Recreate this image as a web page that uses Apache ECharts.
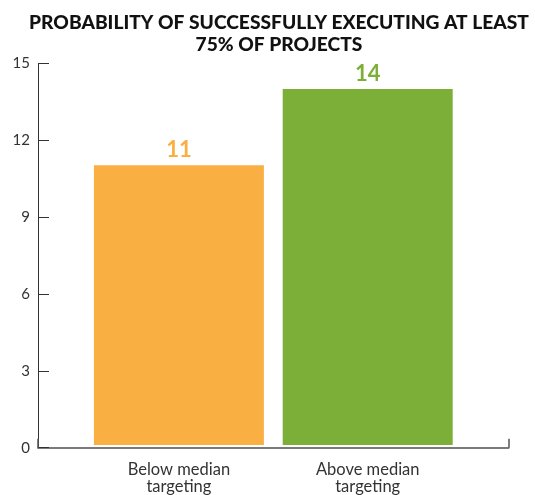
<!DOCTYPE html>
<html>
<head>
<meta charset="utf-8">
<script src="https://cdn.jsdelivr.net/npm/echarts@6/dist/echarts.min.js"></script>
<style>
html,body{margin:0;padding:0;background:#fff;}
#chart{width:535px;height:495px;}
</style>
</head>
<body>
<div id="chart"></div>
<script>
const titleText = 'PROBABILITY OF SUCCESSFULLY EXECUTING AT LEAST\n75% OF PROJECTS';
const categories = ['Below median\ntargeting', 'Above median\ntargeting'];
const values = [11, 14];
const barColors = ['#FAAF42', '#7CAF37'];
const yTicks = [0, 3, 6, 9, 12, 15];

const chart = echarts.init(document.getElementById('chart'), null, {renderer: 'canvas'});
const font = 'Lato';
const TOP = 63.5, BOTTOM = 47.3;

chart.setOption({
  animation: false,
  backgroundColor: '#ffffff',
  title: {
    text: titleText,
    left: 274,
    top: 7,
    textAlign: 'center',
    textStyle: {fontFamily: 'Lato', fontWeight: 900, fontSize: 19.2, lineHeight: 22, color: '#111'}
  },
  grid: [
    {left: 38, right: 26.5, top: TOP, bottom: BOTTOM},
    {left: 84.5, width: 377.6, top: TOP, bottom: BOTTOM}
  ],
  xAxis: [
    {
      gridIndex: 0, type: 'category', data: [''],
      axisLine: {lineStyle: {color: '#7a7a7a', width: 2}},
      axisTick: {show: true, inside: true, length: 9, lineStyle: {color: '#555', width: 1.5}},
      axisLabel: {show: false}, splitLine: {show: false}
    },
    {
      gridIndex: 1, type: 'category', data: categories,
      axisLine: {show: false}, axisTick: {show: false},
      axisLabel: {fontFamily: font, fontSize: 16.5, lineHeight: 17, color: '#333', margin: 16}
    }
  ],
  yAxis: [
    {
      gridIndex: 0, type: 'value', min: yTicks[0], max: yTicks[yTicks.length - 1], interval: 3,
      axisLine: {show: true, lineStyle: {color: '#333', width: 1}},
      axisTick: {show: true, inside: true, length: 11, lineStyle: {color: '#333', width: 1}},
      axisLabel: {fontFamily: font, fontSize: 15, color: '#333', margin: 8},
      splitLine: {show: false}
    },
    {
      gridIndex: 1, type: 'value', min: yTicks[0], max: yTicks[yTicks.length - 1], interval: 3,
      show: false
    }
  ],
  series: [{
    type: 'bar',
    xAxisIndex: 1, yAxisIndex: 1,
    barWidth: 170,
    data: values.map((v, i) => ({
      value: v,
      itemStyle: {color: barColors[i]},
      label: {color: barColors[i]}
    })),
    label: {
      show: true, position: 'top', distance: 4,
      fontFamily: font, fontWeight: 'bold', fontSize: 22
    }
  }]
});
</script>
</body>
</html>
